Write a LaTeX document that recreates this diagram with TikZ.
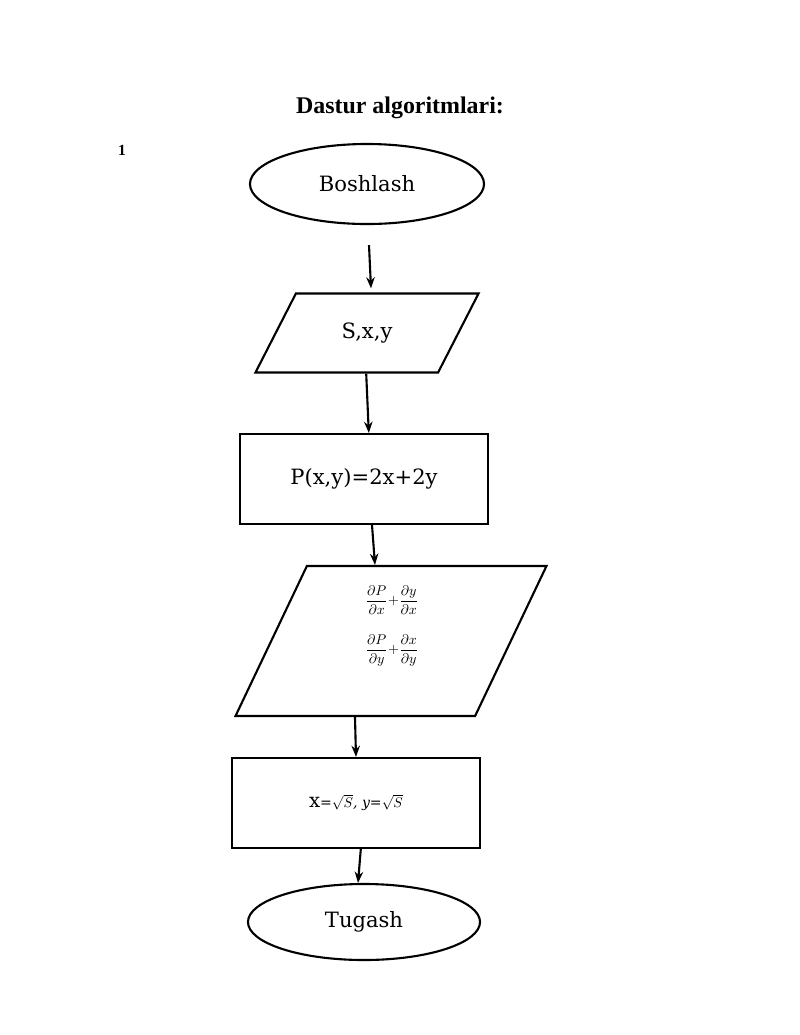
\documentclass[tikz,border=0pt]{standalone}
\usepackage{fontspec}
\setmainfont{Liberation Serif}
\newfontfamily\boxfont{DejaVu Serif}
\usetikzlibrary{shapes.geometric, arrows.meta, positioning}
\tikzset{
  term/.style={ellipse, draw=black, line width=1.5pt, minimum width=5.85cm, minimum height=2.0cm,
    font=\boxfont\fontsize{15}{17}\selectfont},
  io/.style={trapezium, trapezium stretches=true, draw=black, line width=1.5pt,
    trapezium left angle=60, trapezium right angle=120, font=\boxfont\fontsize{15}{17}\selectfont},
  proc/.style={rectangle, draw=black, line width=1.5pt, minimum width=6.22cm, minimum height=2.25cm,
    font=\boxfont\fontsize{15}{17}\selectfont},
  ar/.style={-{Stealth[length=8pt,width=6pt]}, line width=1.5pt},
  mth/.style={font=\itshape\fontsize{10}{12}\selectfont},
}
\begin{document}
\begin{tikzpicture}[x=0.025cm, y=-0.025cm]
\useasboundingbox (0,0) rectangle (800,1035);

\node[font=\bfseries\fontsize{17}{20}\selectfont] (TITLE) at (400,108) {Dastur algoritmlari:};
\node[font=\bfseries\fontsize{11}{13}\selectfont] (NUM) at (122,150) {1};

%% nodes
\node[term] (START) at (367,184) {Boshlash};
\node[io, minimum width=5.6cm, minimum height=1.975cm] (IN) at (367,333) {S,x,y};
\node[proc] (P) at (364,479) {P(x,y)=2x+2y};
\node[io, trapezium left angle=67, trapezium right angle=113,
  minimum width=7.775cm, minimum height=3.75cm] (D) at (391,641) {};
\node[mth] (D1) at (392,600) {$\displaystyle\frac{\partial P}{\partial x}{+}\frac{\partial y}{\partial x}$};
\node[mth, below=0.25cm of D1] (D2) {$\displaystyle\frac{\partial P}{\partial y}{+}\frac{\partial x}{\partial y}$};
\node[proc] (X) at (356,803) {{\fontsize{14}{16}\selectfont x}{\itshape\fontsize{10}{12}\selectfont =$\sqrt{S}$, y=$\sqrt{S}$}};
\node[term, minimum width=5.8cm, minimum height=1.9cm] (END) at (364,922) {Tugash};

%% arrows
\draw[ar] ([xshift=0.05cm,yshift=-0.5cm]START.south) -- ([xshift=0.1cm,yshift=0.1cm]IN.north);
\draw[ar] ([xshift=-0.02cm]IN.south) -- ([xshift=0.12cm]P.north);
\draw[ar] ([xshift=0.2cm]P.south) -- ([xshift=-0.4cm]D.north);
\draw[ar] ([xshift=-0.9cm]D.south) -- ([xshift=0.0cm]X.north);
\draw[ar] ([xshift=0.12cm]X.south) -- ([xshift=-0.15cm]END.north);
\end{tikzpicture}
\end{document}
